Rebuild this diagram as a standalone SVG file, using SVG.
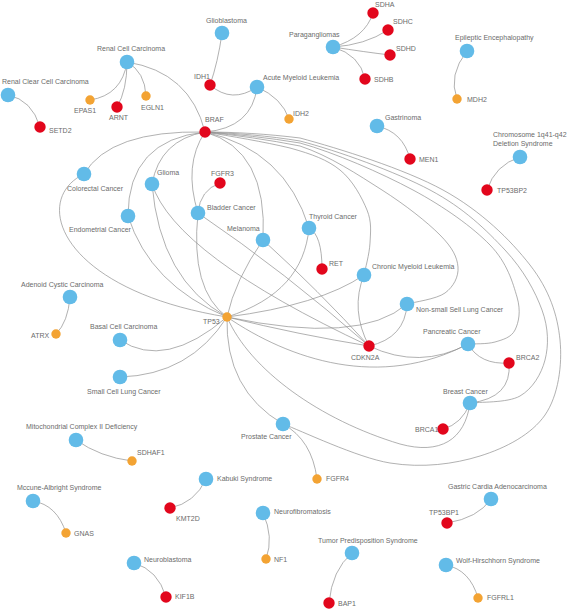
<svg xmlns="http://www.w3.org/2000/svg" width="567" height="611" viewBox="0 0 567 611">
<style>
.e{fill:none;stroke:#8f8f8f;stroke-width:0.7}
.d{fill:#62bbe8}
.g{fill:#e2061c}
.o{fill:#f3a333}
text{font-family:"Liberation Sans",Arial,sans-serif;font-size:7px;fill:#6b6b6b}
</style>
<rect width="567" height="611" fill="#fff"/>
<g id="edges">
<path class="e" d="M127,62 Q122,95 90,100"/>
<path class="e" d="M127,62 Q127,90 117,107"/>
<path class="e" d="M127,62 Q145,72 146,96"/>
<path class="e" d="M127,62 Q190,72 205,132"/>
<path class="e" d="M8,95 Q32,100 40,127"/>
<path class="e" d="M222,33 Q218,62 210,85"/>
<path class="e" d="M210,85 Q232,104 257,87"/>
<path class="e" d="M257,87 Q282,98 289,119"/>
<path class="e" d="M257,87 Q252,128 205,132"/>
<path class="e" d="M333,47 Q365,38 373,13"/>
<path class="e" d="M333,47 Q365,45 388,30"/>
<path class="e" d="M333,47 Q365,52 390,55"/>
<path class="e" d="M333,47 Q360,55 365,79"/>
<path class="e" d="M467,51 Q448,75 457,99"/>
<path class="e" d="M377,126 Q403,132 410,159"/>
<path class="e" d="M520,157 Q495,165 487,190"/>
<path class="e" d="M309,228 Q322,235 322,269"/>
<path class="e" d="M220,183 Q200,190 198,213"/>
<path class="e" d="M468,344 Q480,365 509,363"/>
<path class="e" d="M509,363 Q512,398 470,403"/>
<path class="e" d="M470,403 Q462,424 443,429"/>
<path class="e" d="M70,297 Q68,322 56,334"/>
<path class="e" d="M76,440 Q100,457 132,461"/>
<path class="e" d="M33,501 Q57,505 66,533"/>
<path class="e" d="M206,479 Q195,503 170,508"/>
<path class="e" d="M263,513 Q274,537 266,559"/>
<path class="e" d="M134,563 Q158,570 166,597"/>
<path class="e" d="M352,553 Q332,570 329,603"/>
<path class="e" d="M491,499 Q478,518 447,523"/>
<path class="e" d="M446,565 Q470,570 478,598"/>
<path class="e" d="M283,424 Q312,440 317,479"/>
<path class="e" d="M205,132 Q110,130 84,174"/>
<path class="e" d="M205,132 Q128,140 128,216"/>
<path class="e" d="M205,132 Q160,140 152,184"/>
<path class="e" d="M205,132 Q183,165 198,213"/>
<path class="e" d="M205,132 Q268,150 263,240"/>
<path class="e" d="M205,132 Q285,150 309,228"/>
<path class="e" d="M205,132 C230,136 265,142 290,148 C312.5,154.3 327.2,159.7 340,170 C352.8,180.3 362,197.8 367,210 C372,222.2 370.5,232.2 370,243 C369.5,253.8 365,269.7 364,275"/>
<path class="e" d="M205,132 C235,135 270,140 300,146 C329.5,155.7 358.7,175.2 382,190 C405.3,204.8 427.3,222.2 440,235 C452.7,247.8 457.2,257.3 458,267 C458.8,276.7 453.5,286.8 445,293 C436.5,299.2 413.3,302.2 407,304"/>
<path class="e" d="M205,132 C235,134 270,138 300,143 C334.7,152.7 381.3,173 413,190 C444.7,207 472.7,227.2 490,245 C507.3,262.8 512.8,282.8 517,297 C521.2,311.2 518.7,322.5 515,330 C511.3,337.5 502.8,339.7 495,342 C487.2,344.3 472.5,343.7 468,344"/>
<path class="e" d="M205,132 C235,133 270,136 300,141 C337.5,150.7 395.8,171.8 430,190 C464.2,208.2 486.3,230 505,250 C523.7,270 535.3,291.7 542,310 C548.7,328.3 548.7,345.7 545,360 C541.3,374.3 532.5,388.8 520,396 C507.5,403.2 478.3,401.8 470,403"/>
<path class="e" d="M205,132 C235,132 268,134 300,138 C339.7,148.7 404.7,169 443,190 C481.3,211 510.5,240 530,265 C549.5,290 557.5,315 560,340 C562.5,365 558.3,395.7 545,415 C531.7,434.3 505.8,448 480,456 C454.2,464 422.8,468.3 390,463 C357.2,457.7 300.8,430.5 283,424"/>
<path class="e" d="M84,174 C30,200 60,290 227,317"/>
<path class="e" d="M128,216 Q150,285 227,317"/>
<path class="e" d="M152,184 Q160,280 227,317"/>
<path class="e" d="M198,213 Q190,290 227,317"/>
<path class="e" d="M263,240 Q235,280 227,317"/>
<path class="e" d="M309,228 C305,270 280,300 227,317"/>
<path class="e" d="M364,275 Q320,305 227,317"/>
<path class="e" d="M407,304 Q360,345 227,317"/>
<path class="e" d="M369,346 Q300,335 227,317"/>
<path class="e" d="M468,344 C380,390 290,360 227,317"/>
<path class="e" d="M227,317 C250,370 320,420 400,444 C440,455 465,440 470,403"/>
<path class="e" d="M227,317 Q225,390 283,424"/>
<path class="e" d="M120,340 Q165,370 227,317"/>
<path class="e" d="M120,377 Q190,375 227,317"/>
<path class="e" d="M152,184 Q175,255 369,346"/>
<path class="e" d="M198,213 Q285,272 369,346"/>
<path class="e" d="M263,240 Q318,290 369,346"/>
<path class="e" d="M364,275 Q350,310 369,346"/>
<path class="e" d="M407,304 Q405,338 369,346"/>
<path class="e" d="M369,346 Q420,370 468,344"/>
</g>
<g id="n-rcc"><circle class="d" cx="127" cy="62" r="7.3"/><text x="97" y="51">Renal Cell Carcinoma</text></g>
<g id="n-rccc"><circle class="d" cx="8" cy="95" r="7.3"/><text x="2" y="84">Renal Clear Cell Carcinoma</text></g>
<g id="n-glioblastoma"><circle class="d" cx="222" cy="33" r="7.3"/><text x="206" y="22.5">Glioblastoma</text></g>
<g id="n-para"><circle class="d" cx="333" cy="47" r="7.3"/><text x="289" y="36.5">Paragangliomas</text></g>
<g id="n-aml"><circle class="d" cx="257" cy="87" r="7.3"/><text x="263" y="80">Acute Myeloid Leukemia</text></g>
<g id="n-epi"><circle class="d" cx="467" cy="51" r="7.3"/><text x="455" y="39.5">Epileptic Encephalopathy</text></g>
<g id="n-gastrinoma"><circle class="d" cx="377" cy="126" r="7.3"/><text x="385" y="119.5">Gastrinoma</text></g>
<g id="n-chrom"><circle class="d" cx="520" cy="157" r="7.3"/><text x="493" y="136.5">Chromosome 1q41-q42</text><text x="493" y="145.5">Deletion Syndrome</text></g>
<g id="n-colorectal"><circle class="d" cx="84" cy="174" r="7.3"/><text x="67" y="190.5">Colorectal Cancer</text></g>
<g id="n-glioma"><circle class="d" cx="152" cy="184" r="7.3"/><text x="157" y="175">Glioma</text></g>
<g id="n-endometrial"><circle class="d" cx="128" cy="216" r="7.3"/><text x="69" y="231.5">Endometrial Cancer</text></g>
<g id="n-bladder"><circle class="d" cx="198" cy="213" r="7.3"/><text x="207" y="209.5">Bladder Cancer</text></g>
<g id="n-melanoma"><circle class="d" cx="263" cy="240" r="7.3"/><text x="227" y="230.5">Melanoma</text></g>
<g id="n-thyroid"><circle class="d" cx="309" cy="228" r="7.3"/><text x="309" y="218.5">Thyroid Cancer</text></g>
<g id="n-cml"><circle class="d" cx="364" cy="275" r="7.3"/><text x="372" y="269">Chronic Myeloid Leukemia</text></g>
<g id="n-nsclc"><circle class="d" cx="407" cy="304" r="7.3"/><text x="416" y="311.5">Non-small Sell Lung Cancer</text></g>
<g id="n-pancreatic"><circle class="d" cx="468" cy="344" r="7.3"/><text x="423" y="334">Pancreatic Cancer</text></g>
<g id="n-breast"><circle class="d" cx="470" cy="403" r="7.3"/><text x="443" y="393.5">Breast Cancer</text></g>
<g id="n-adenoid"><circle class="d" cx="70" cy="297" r="7.3"/><text x="21" y="287">Adenoid Cystic Carcinoma</text></g>
<g id="n-basal"><circle class="d" cx="120" cy="340" r="7.3"/><text x="90" y="329">Basal Cell Carcinoma</text></g>
<g id="n-sclc"><circle class="d" cx="120" cy="377" r="7.3"/><text x="87" y="394">Small Cell Lung Cancer</text></g>
<g id="n-prostate"><circle class="d" cx="283" cy="424" r="7.3"/><text x="241" y="439">Prostate Cancer</text></g>
<g id="n-mito"><circle class="d" cx="76" cy="440" r="7.3"/><text x="26" y="429">Mitochondrial Complex II Deficiency</text></g>
<g id="n-mccune"><circle class="d" cx="33" cy="501" r="7.3"/><text x="17" y="490">Mccune-Albright Syndrome</text></g>
<g id="n-kabuki"><circle class="d" cx="206" cy="479" r="7.3"/><text x="217" y="480.5">Kabuki Syndrome</text></g>
<g id="n-neurofib"><circle class="d" cx="263" cy="513" r="7.3"/><text x="274" y="514">Neurofibromatosis</text></g>
<g id="n-gastric"><circle class="d" cx="491" cy="499" r="7.3"/><text x="448" y="488.5">Gastric Cardia Adenocarcinoma</text></g>
<g id="n-tumor"><circle class="d" cx="352" cy="553" r="7.3"/><text x="318" y="542.5">Tumor Predisposition Syndrome</text></g>
<g id="n-neuroblastoma"><circle class="d" cx="134" cy="563" r="7.3"/><text x="144" y="561.5">Neuroblastoma</text></g>
<g id="n-wolf"><circle class="d" cx="446" cy="565" r="7.3"/><text x="456" y="562.5">Wolf-Hirschhorn Syndrome</text></g>
<g id="n-sdha"><circle class="g" cx="373" cy="13" r="5.7"/><text x="375" y="6.5">SDHA</text></g>
<g id="n-sdhc"><circle class="g" cx="388" cy="30" r="5.7"/><text x="393" y="24">SDHC</text></g>
<g id="n-sdhd"><circle class="g" cx="390" cy="55" r="5.7"/><text x="396" y="50.5">SDHD</text></g>
<g id="n-sdhb"><circle class="g" cx="365" cy="79" r="5.7"/><text x="374" y="81.5">SDHB</text></g>
<g id="n-idh1"><circle class="g" cx="210" cy="85" r="5.7"/><text x="194" y="78.5">IDH1</text></g>
<g id="n-braf"><circle class="g" cx="205" cy="132" r="5.7"/><text x="205" y="121.5">BRAF</text></g>
<g id="n-fgfr3"><circle class="g" cx="220" cy="183" r="5.7"/><text x="211" y="175.5">FGFR3</text></g>
<g id="n-arnt"><circle class="g" cx="117" cy="107" r="5.7"/><text x="109" y="120">ARNT</text></g>
<g id="n-setd2"><circle class="g" cx="40" cy="127" r="5.7"/><text x="49" y="132.5">SETD2</text></g>
<g id="n-men1"><circle class="g" cx="410" cy="159" r="5.7"/><text x="419" y="161.5">MEN1</text></g>
<g id="n-tp53bp2"><circle class="g" cx="487" cy="190" r="5.7"/><text x="497" y="192.5">TP53BP2</text></g>
<g id="n-ret"><circle class="g" cx="322" cy="269" r="5.7"/><text x="329" y="265.5">RET</text></g>
<g id="n-cdkn2a"><circle class="g" cx="369" cy="346" r="5.7"/><text x="351" y="360">CDKN2A</text></g>
<g id="n-brca2"><circle class="g" cx="509" cy="363" r="5.7"/><text x="516" y="360">BRCA2</text></g>
<g id="n-brca1"><circle class="g" cx="443" cy="429" r="5.7"/><text x="415" y="431.5">BRCA1</text></g>
<g id="n-kmt2d"><circle class="g" cx="170" cy="508" r="5.7"/><text x="176" y="520.5">KMT2D</text></g>
<g id="n-tp53bp1"><circle class="g" cx="447" cy="523" r="5.7"/><text x="429" y="514.5">TP53BP1</text></g>
<g id="n-kif1b"><circle class="g" cx="166" cy="597" r="5.7"/><text x="175" y="599">KIF1B</text></g>
<g id="n-bap1"><circle class="g" cx="329" cy="603" r="5.7"/><text x="338" y="605.5">BAP1</text></g>
<g id="n-epas1"><circle class="o" cx="90" cy="100" r="4.7"/><text x="74" y="112.5">EPAS1</text></g>
<g id="n-egln1"><circle class="o" cx="146" cy="96" r="4.7"/><text x="141" y="109.5">EGLN1</text></g>
<g id="n-idh2"><circle class="o" cx="289" cy="119" r="4.7"/><text x="293" y="115.5">IDH2</text></g>
<g id="n-mdh2"><circle class="o" cx="457" cy="99" r="4.7"/><text x="467" y="101.5">MDH2</text></g>
<g id="n-tp53"><circle class="o" cx="227" cy="317" r="4.7"/><text x="203" y="323.5">TP53</text></g>
<g id="n-atrx"><circle class="o" cx="56" cy="334" r="4.7"/><text x="31" y="337.5">ATRX</text></g>
<g id="n-sdhaf1"><circle class="o" cx="132" cy="461" r="4.7"/><text x="137" y="455">SDHAF1</text></g>
<g id="n-gnas"><circle class="o" cx="66" cy="533" r="4.7"/><text x="74" y="535.5">GNAS</text></g>
<g id="n-fgfr4"><circle class="o" cx="317" cy="479" r="4.7"/><text x="326" y="480.5">FGFR4</text></g>
<g id="n-nf1"><circle class="o" cx="266" cy="559" r="4.7"/><text x="274" y="561.5">NF1</text></g>
<g id="n-fgfrl1"><circle class="o" cx="478" cy="598" r="4.7"/><text x="487" y="600">FGFRL1</text></g>
</svg>
